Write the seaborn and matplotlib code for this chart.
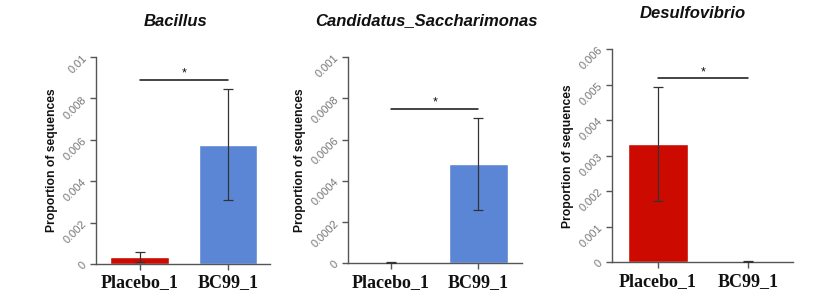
import matplotlib
matplotlib.use("Agg")
import matplotlib.pyplot as plt
import seaborn as sns
import pandas as pd
import numpy as np

groups = ["Placebo_1", "BC99_1"]
titles = ["Bacillus", "Candidatus_Saccharimonas", "Desulfovibrio"]

bacillus_mean = [0.00034, 0.00575]
bacillus_err_lo = [0.00024, 0.00267]
bacillus_err_hi = [0.00026, 0.00269]

sacch_mean = [0.0, 0.00048]
sacch_err_lo = [0.0, 0.000223]
sacch_err_hi = [0.000004, 0.000226]

desulfo_mean = [0.003324, 0.0]
desulfo_err_lo = [0.001594, 0.0]
desulfo_err_hi = [0.001616, 0.000025]

ymax = [0.01, 0.001, 0.006]
yticks = [[0, 0.002, 0.004, 0.006, 0.008, 0.01],
          [0, 0.0002, 0.0004, 0.0006, 0.0008, 0.001],
          [0, 0.001, 0.002, 0.003, 0.004, 0.005, 0.006]]
ytick_labels = [["0", "0.002", "0.004", "0.006", "0.008", "0.01"],
                ["0", "0.0002", "0.0004", "0.0006", "0.0008", "0.001"],
                ["0", "0.001", "0.002", "0.003", "0.004", "0.005", "0.006"]]
sig_y = [0.0089, 0.00075, 0.00518]
sig_text = ["*", "*", "*"]

means = [bacillus_mean, sacch_mean, desulfo_mean]
errs_lo = [bacillus_err_lo, sacch_err_lo, desulfo_err_lo]
errs_hi = [bacillus_err_hi, sacch_err_hi, desulfo_err_hi]

colors = {"Placebo_1": "#CC0A00", "BC99_1": "#5B86D6"}

sns.set_style("white")
plt.rcParams['font.family'] = ['Liberation Sans', 'DejaVu Sans']

W, H = 832, 302
fig = plt.figure(figsize=(W / 100, H / 100), dpi=100)

# axes boxes in pixels: left, right, top, bottom
boxes = [(95.7, 270, 57, 264), (347.7, 521.7, 57, 263.3), (611.7, 793, 49.3, 262.3)]
xlims = [(-0.503, 1.477), (-0.495, 1.494), (-0.514, 1.5)]
title_pos = [(175.7, 21.7), (426.7, 21.0), (693.0, 13.3)]

gray = "#555555"
for i in range(3):
    l, r, t, b = boxes[i]
    ax = fig.add_axes([l / W, 1 - b / H, (r - l) / W, (b - t) / H])
    df = pd.DataFrame({"group": groups, "value": means[i]})
    sns.barplot(data=df, x="group", y="value", hue="group", palette=colors,
                order=groups, width=0.67, ax=ax, legend=False, errorbar=None,
                saturation=1)
    ax.errorbar([0, 1], means[i], yerr=[errs_lo[i], errs_hi[i]], fmt="none",
                ecolor="#333333", elinewidth=0.9, capsize=3.5, capthick=0.9, zorder=5)
    ax.set_xlim(*xlims[i])
    ax.set_ylim(0, ymax[i])
    ax.set_yticks(yticks[i])
    ax.set_yticklabels(ytick_labels[i], rotation=45, color="#777777", fontsize=8)
    ax.set_xticks([0, 1])
    ax.set_xticklabels(groups, fontfamily="Liberation Serif", fontweight="bold",
                       fontsize=13, color="#111111")
    ax.set_xlabel("")
    ax.set_ylabel("Proportion of sequences", fontsize=8.7, fontweight="bold",
                  color="#111111", labelpad=3)
    for s in ["top", "right"]:
        ax.spines[s].set_visible(False)
    for s in ["left", "bottom"]:
        ax.spines[s].set_color(gray)
        ax.spines[s].set_linewidth(1.0)
    ax.tick_params(axis="both", direction="out", length=4, width=1.0, color=gray,
                   left=True, bottom=True)
    ax.tick_params(axis="y", pad=1)
    # significance
    ax.plot([0, 1], [sig_y[i], sig_y[i]], color="#111111", lw=1.1)
    ax.text(0.5, sig_y[i], sig_text[i], ha="center", va="bottom", fontsize=9,
            color="#111111")
    tx, ty = title_pos[i]
    fig.text(tx / W, 1 - ty / H, titles[i], ha="center", va="center", fontsize=12,
             fontweight="bold", fontstyle="italic", color="#111111")

fig.savefig("out.png", dpi=100)
